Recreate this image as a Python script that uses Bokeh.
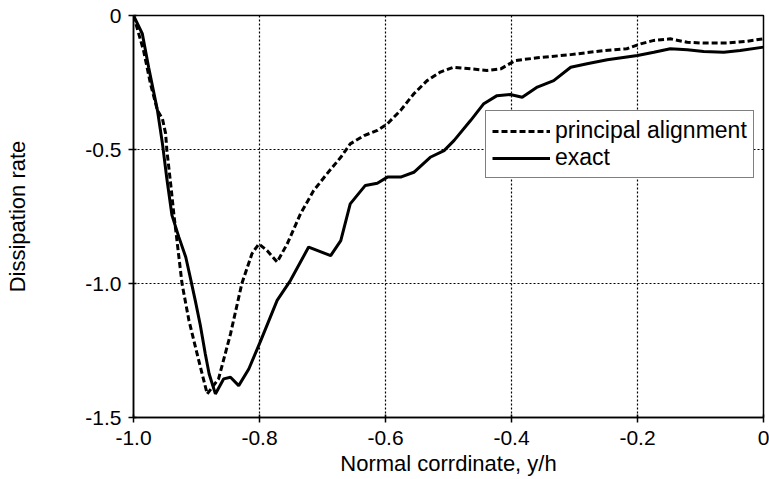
from bokeh.plotting import figure
from bokeh.models import Range1d, FixedTicker, Legend, LegendItem
from bokeh.embed import file_html
from bokeh.resources import INLINE

# Data
exact_x = [-1.0, -0.986, -0.976, -0.962, -0.954, -0.947, -0.939, -0.928, -0.917, -0.910,
           -0.902, -0.894, -0.886, -0.880, -0.870, -0.857, -0.846, -0.833, -0.817, -0.798,
           -0.772, -0.751, -0.722, -0.687, -0.671, -0.656, -0.632, -0.613, -0.597, -0.576,
           -0.555, -0.529, -0.507, -0.491, -0.465, -0.444, -0.423, -0.402, -0.383, -0.359,
           -0.333, -0.306, -0.280, -0.248, -0.200, -0.174, -0.148, -0.121, -0.095, -0.063,
           -0.037, 0.0]
exact_y = [0.0, -0.068, -0.193, -0.354, -0.479, -0.610, -0.745, -0.827, -0.902, -0.976,
           -1.063, -1.155, -1.263, -1.337, -1.412, -1.356, -1.350, -1.381, -1.319, -1.213,
           -1.063, -0.989, -0.864, -0.896, -0.840, -0.703, -0.634, -0.626, -0.603, -0.603,
           -0.585, -0.529, -0.504, -0.466, -0.392, -0.329, -0.299, -0.295, -0.305, -0.267,
           -0.243, -0.193, -0.180, -0.165, -0.149, -0.137, -0.124, -0.128, -0.134, -0.137,
           -0.131, -0.118]

principal_x = [-1.0, -0.984, -0.973, -0.962, -0.954, -0.949, -0.947, -0.941, -0.936, -0.931,
               -0.923, -0.912, -0.899, -0.883, -0.865, -0.846, -0.828, -0.812, -0.801, -0.788,
               -0.772, -0.756, -0.735, -0.714, -0.693, -0.671, -0.656, -0.634, -0.613, -0.597,
               -0.576, -0.555, -0.534, -0.513, -0.492, -0.465, -0.439, -0.417, -0.394, -0.359,
               -0.306, -0.254, -0.217, -0.195, -0.174, -0.148, -0.121, -0.095, -0.058, -0.026,
               0.0]
principal_y = [0.0, -0.131, -0.255, -0.354, -0.386, -0.441, -0.504, -0.628, -0.740, -0.840,
               -1.000, -1.138, -1.263, -1.412, -1.356, -1.188, -1.000, -0.889, -0.852, -0.877,
               -0.920, -0.852, -0.740, -0.653, -0.591, -0.529, -0.479, -0.448, -0.429, -0.404,
               -0.354, -0.292, -0.243, -0.211, -0.193, -0.199, -0.205, -0.199, -0.168, -0.158,
               -0.146, -0.131, -0.124, -0.106, -0.093, -0.087, -0.100, -0.103, -0.103, -0.096,
               -0.087]

x_ticks = [-1.0, -0.8, -0.6, -0.4, -0.2, 0.0]
x_tick_labels = ["-1.0", "-0.8", "-0.6", "-0.4", "-0.2", "0"]
y_ticks = [-1.5, -1.0, -0.5, 0.0]
y_tick_labels = ["-1.5", "-1.0", "-0.5", "0"]

FONT = "Liberation Sans"

p = figure(width=769, height=479, output_backend="svg", toolbar_location=None,
           x_range=Range1d(-1.0, 0.0), y_range=Range1d(-1.5, 0.0),
           min_border_left=133, min_border_right=6, min_border_top=15, min_border_bottom=62)
p.background_fill_color = "white"
p.border_fill_color = "white"
p.outline_line_color = "black"
p.outline_line_width = 1.5

l_p = p.line(principal_x, principal_y, line_color="black", line_width=3, line_dash="6 3")
l_e = p.line(exact_x, exact_y, line_color="black", line_width=3)

for ax, ticks, labels in ((p.xaxis[0], x_ticks, x_tick_labels), (p.yaxis[0], y_ticks, y_tick_labels)):
    ax.ticker = FixedTicker(ticks=ticks)
    ax.major_label_overrides = {t: s for t, s in zip(ticks, labels)}
    ax.minor_tick_line_color = None
    ax.major_tick_in = 3
    ax.major_tick_out = 5
    ax.axis_line_color = "black"
    ax.axis_line_width = 1.5
    ax.major_tick_line_color = "black"
    ax.major_tick_line_width = 1.5
    ax.major_label_text_font = FONT
    ax.major_label_text_font_size = "21px"
    ax.major_label_text_color = "black"
    ax.axis_label_text_font = FONT
    ax.axis_label_text_font_size = "22px"
    ax.axis_label_text_font_style = "normal"
    ax.axis_label_text_color = "black"

p.xaxis.axis_label = "Normal corrdinate, y/h"
p.yaxis.axis_label = "Dissipation rate"
p.xaxis.major_label_standoff = 8
p.yaxis.major_label_standoff = 7
p.xaxis.axis_label_standoff = 3
p.yaxis.axis_label_standoff = 52

p.xgrid.grid_line_color = "black"
p.ygrid.grid_line_color = "black"
p.xgrid.grid_line_dash = "2 2"
p.ygrid.grid_line_dash = "2 2"
p.xgrid.grid_line_width = 1.2
p.ygrid.grid_line_width = 1.2

legend = Legend(items=[LegendItem(label="principal alignment", renderers=[l_p]),
                       LegendItem(label="exact", renderers=[l_e])],
                location=(352, 239))
legend.label_text_font = FONT
legend.label_text_font_size = "23px"
legend.label_text_color = "black"
legend.glyph_width = 58
legend.glyph_height = 24
legend.label_height = 24
legend.label_standoff = 5
legend.padding = 6
legend.spacing = 0
legend.margin = 0
legend.border_line_color = "black"
legend.border_line_width = 1.5
legend.background_fill_color = "white"
legend.background_fill_alpha = 1.0
p.add_layout(legend, "center")

open("out.html", "w").write(file_html(p, INLINE))
